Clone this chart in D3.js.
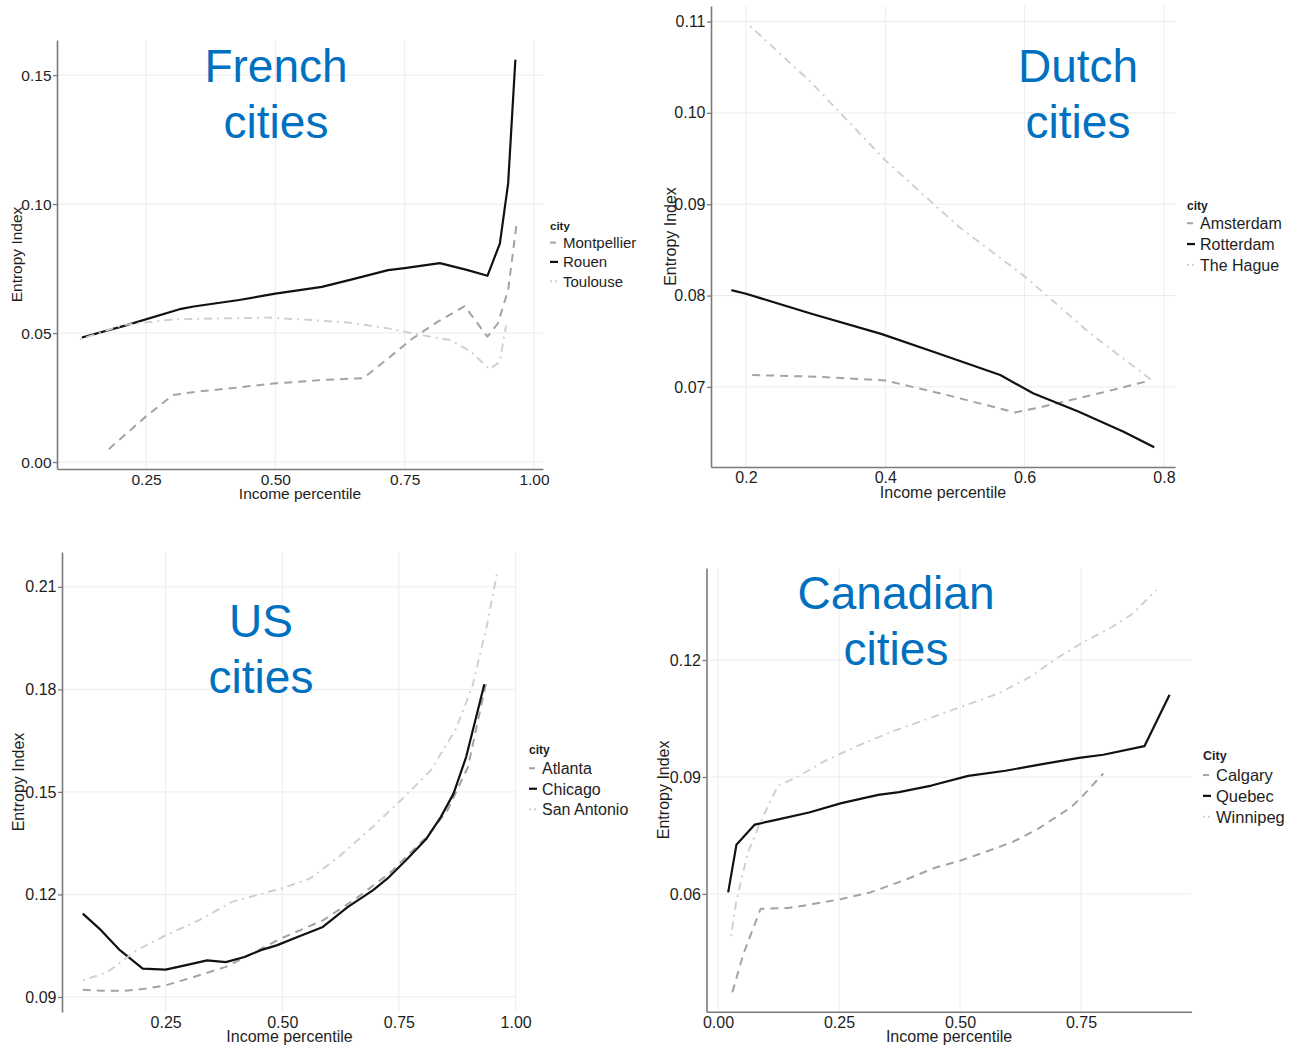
<!DOCTYPE html>
<html>
<head>
<meta charset="utf-8">
<script src="https://cdn.jsdelivr.net/npm/d3@7"></script>
<style>
  html, body { margin: 0; padding: 0; background: #ffffff; }
  svg { display: block; }
  text { font-family: "Liberation Sans", Arial, sans-serif; }
</style>
</head>
<body>
<svg id="chart" width="1292" height="1045"></svg>
<script>
// ---- Entropy index by income percentile, four country groups ----

// French cities
const frenchCities = ["Montpellier", "Rouen", "Toulouse"];
const montpellier = [[0.178,0.005],[0.25,0.0177],[0.302,0.026],[0.35,0.0273],[0.414,0.0286],[0.50,0.0305],[0.59,0.0318],[0.67,0.0325],[0.718,0.0402],[0.766,0.048],[0.814,0.0544],[0.866,0.0604],[0.91,0.0486],[0.93,0.0537],[0.95,0.0666],[0.966,0.0918]];
const rouen = [[0.126,0.0483],[0.206,0.0527],[0.318,0.0594],[0.342,0.0603],[0.43,0.0628],[0.50,0.0653],[0.59,0.0679],[0.654,0.0711],[0.718,0.0744],[0.75,0.0752],[0.818,0.0771],[0.87,0.0745],[0.91,0.0722],[0.934,0.0847],[0.95,0.108],[0.964,0.156]];
const toulouse = [[0.122,0.0476],[0.206,0.0531],[0.302,0.0553],[0.398,0.0557],[0.486,0.056],[0.574,0.055],[0.646,0.054],[0.718,0.0518],[0.782,0.0492],[0.838,0.0473],[0.878,0.0428],[0.914,0.036],[0.934,0.0389],[0.946,0.053]];
const frenchXTicks = ["0.25", "0.50", "0.75", "1.00"];
const frenchYTicks = ["0.00", "0.05", "0.10", "0.15"];

// Dutch cities
const dutchCities = ["Amsterdam", "Rotterdam", "The Hague"];
const amsterdam = [[0.209,0.0713],[0.306,0.0711],[0.40,0.0707],[0.489,0.0691],[0.586,0.0672],[0.624,0.0678],[0.707,0.0693],[0.78,0.0707]];
const rotterdam = [[0.179,0.0806],[0.2,0.0802],[0.294,0.078],[0.394,0.0758],[0.471,0.0738],[0.565,0.0713],[0.612,0.0693],[0.677,0.0673],[0.742,0.0651],[0.786,0.0634]];
const theHague = [[0.206,0.1095],[0.294,0.1033],[0.40,0.0948],[0.506,0.0875],[0.60,0.0821],[0.695,0.0758],[0.783,0.0707]];
const dutchXTicks = ["0.2", "0.4", "0.6", "0.8"];
const dutchYTicks = ["0.07", "0.08", "0.09", "0.10", "0.11"];

// US cities
const usCities = ["Atlanta", "Chicago", "San Antonio"];
const atlanta = [[0.0725,0.0921],[0.117,0.0918],[0.161,0.0918],[0.206,0.0924],[0.25,0.0934],[0.312,0.0959],[0.379,0.0988],[0.428,0.1022],[0.497,0.1071],[0.587,0.1124],[0.658,0.1188],[0.729,0.1261],[0.809,0.1368],[0.854,0.1446],[0.898,0.1573],[0.938,0.1827]];
const chicago = [[0.0725,0.1144],[0.108,0.11],[0.152,0.1037],[0.201,0.0983],[0.25,0.098],[0.294,0.0993],[0.339,0.1007],[0.379,0.1002],[0.419,0.1017],[0.454,0.1037],[0.488,0.1051],[0.534,0.1076],[0.587,0.1105],[0.64,0.1163],[0.694,0.1212],[0.725,0.1246],[0.765,0.13],[0.809,0.1363],[0.84,0.1427],[0.867,0.1495],[0.894,0.1602],[0.933,0.1815]];
const sanAntonio = [[0.0725,0.0949],[0.126,0.0973],[0.188,0.1037],[0.25,0.108],[0.321,0.1124],[0.392,0.1178],[0.445,0.1198],[0.497,0.1217],[0.559,0.1246],[0.621,0.131],[0.694,0.1398],[0.765,0.149],[0.818,0.1563],[0.871,0.1681],[0.907,0.1807],[0.938,0.1983],[0.96,0.2139]];
const usXTicks = ["0.25", "0.50", "0.75", "1.00"];
const usYTicks = ["0.09", "0.12", "0.15", "0.18", "0.21"];

// Canadian cities
const canadianCities = ["Calgary", "Quebec", "Winnipeg"];
const calgary = [[0.0296,0.0348],[0.0524,0.0446],[0.088,0.0562],[0.145,0.0564],[0.196,0.0574],[0.255,0.0587],[0.315,0.0604],[0.382,0.0634],[0.45,0.0668],[0.50,0.0685],[0.551,0.0707],[0.61,0.0734],[0.661,0.0767],[0.729,0.0822],[0.754,0.0852],[0.796,0.0909]];
const quebec = [[0.021,0.0604],[0.038,0.0726],[0.076,0.0778],[0.12,0.079],[0.188,0.0809],[0.255,0.0833],[0.331,0.0854],[0.374,0.0861],[0.441,0.0878],[0.517,0.0903],[0.594,0.0916],[0.67,0.0933],[0.746,0.0949],[0.796,0.0957],[0.881,0.0979],[0.933,0.1111]];
const winnipeg = [[0.027,0.0491],[0.038,0.0583],[0.061,0.0703],[0.086,0.078],[0.124,0.0878],[0.162,0.0899],[0.222,0.0942],[0.298,0.0985],[0.365,0.1019],[0.433,0.1049],[0.50,0.1079],[0.577,0.1113],[0.644,0.1156],[0.703,0.1207],[0.754,0.1245],[0.813,0.1284],[0.856,0.1318],[0.906,0.138]];
const canadianXTicks = ["0.00", "0.25", "0.50", "0.75"];
const canadianYTicks = ["0.06", "0.09", "0.12"];

// Axis limits (ggplot-style 5% padding around the data)
const frenchXLim = [0.0779, 1.0174], frenchYLim = [-0.0027, 0.1636];
const dutchXLim = [0.1498, 0.8158], dutchYLim = [0.06123, 0.1117];
const usXLim = [0.028, 1.003], usYLim = [0.0856, 0.2202];
const canadianXLim = [-0.0238, 0.9785], canadianYLim = [0.0298, 0.1436];

// Line styles shared by the three city slots of every panel
const lineStyles = [
  { stroke: "#a3a3a3", width: 2.0, dash: "8,6" },        // dashed
  { stroke: "#111111", width: 2.2, dash: null },         // solid
  { stroke: "#cfcfcf", width: 1.9, dash: "2,5,8,5" }     // dot-dash
];

const panels = [
  {
    title: ["French", "cities"], titleX: 276, titleY: [82, 138],
    box: { l: 57, r: 543, t: 40, b: 469 },
    xLim: frenchXLim, yLim: frenchYLim,
    xTicks: frenchXTicks, yTicks: frenchYTicks,
    names: frenchCities, series: [montpellier, rouen, toulouse],
    legendTitle: "city", legend: { x: 550, titleY: 230, y0: 248, dy: 19.3, fs: 15, tfs: 11.5 },
    yTitleX: 22, xTitleY: 499, fs: 15.5, bottomAxis: true
  },
  {
    title: ["Dutch", "cities"], titleX: 1078, titleY: [82, 138],
    box: { l: 711, r: 1175, t: 6, b: 467 },
    xLim: dutchXLim, yLim: dutchYLim,
    xTicks: dutchXTicks, yTicks: dutchYTicks,
    names: dutchCities, series: [amsterdam, rotterdam, theHague],
    legendTitle: "city", legend: { x: 1187, titleY: 210, y0: 229, dy: 20.8, fs: 16, tfs: 12 },
    yTitleX: 676, xTitleY: 498, fs: 16, bottomAxis: true
  },
  {
    title: ["US", "cities"], titleX: 261, titleY: [637, 693],
    box: { l: 62, r: 517, t: 552, b: 1012 },
    xLim: usXLim, yLim: usYLim,
    xTicks: usXTicks, yTicks: usYTicks,
    names: usCities, series: [atlanta, chicago, sanAntonio],
    legendTitle: "city", legend: { x: 529, titleY: 754, y0: 774, dy: 20.5, fs: 16, tfs: 12 },
    yTitleX: 24, xTitleY: 1042, fs: 16, bottomAxis: false
  },
  {
    title: ["Canadian", "cities"], titleX: 896, titleY: [609, 665],
    box: { l: 706.5, r: 1191.6, t: 568, b: 1011.7 },
    xLim: canadianXLim, yLim: canadianYLim,
    xTicks: canadianXTicks, yTicks: canadianYTicks,
    names: canadianCities, series: [calgary, quebec, winnipeg],
    legendTitle: "City", legend: { x: 1203, titleY: 760, y0: 781, dy: 20.8, fs: 16.5, tfs: 12.5 },
    yTitleX: 669, xTitleY: 1042, fs: 16, bottomAxis: true
  }
];

const svg = d3.select("#chart");

panels.forEach(p => {
  const g = svg.append("g");
  const x = d3.scaleLinear().domain(p.xLim).range([p.box.l, p.box.r]);
  const y = d3.scaleLinear().domain(p.yLim).range([p.box.b, p.box.t]);
  const xVals = p.xTicks.map(Number);
  const yVals = p.yTicks.map(Number);

  // grid
  g.append("g").selectAll("line").data(xVals).join("line")
    .attr("x1", d => x(d)).attr("x2", d => x(d))
    .attr("y1", p.box.t).attr("y2", p.box.b)
    .attr("stroke", "#ececec").attr("stroke-width", 1);
  g.append("g").selectAll("line").data(yVals).join("line")
    .attr("x1", p.box.l).attr("x2", p.box.r)
    .attr("y1", d => y(d)).attr("y2", d => y(d))
    .attr("stroke", "#ececec").attr("stroke-width", 1);

  // axes
  const yAxis = d3.axisLeft(y).tickValues(yVals)
    .tickFormat((d, i) => p.yTicks[i]).tickSize(4).tickSizeOuter(0).tickPadding(1.5);
  const yg = g.append("g").attr("transform", `translate(${p.box.l},0)`).call(yAxis);
  const xAxis = d3.axisBottom(x).tickValues(xVals)
    .tickFormat((d, i) => p.xTicks[i]).tickSize(0).tickSizeOuter(0).tickPadding(5);
  const xg = g.append("g").attr("transform", `translate(0,${p.box.b})`).call(xAxis);

  [yg, xg].forEach(ax => {
    ax.select(".domain").attr("stroke", "#7a7a7a").attr("stroke-width", 1.6);
    ax.selectAll(".tick line").attr("stroke", "#7a7a7a").attr("stroke-width", 1.3);
    ax.selectAll(".tick text").attr("fill", "#1e1e1e")
      .style("font-size", p.fs + "px")
      .style("font-family", "'Liberation Sans', Arial, sans-serif");
  });
  if (!p.bottomAxis) xg.select(".domain").remove();

  // axis titles
  g.append("text")
    .attr("transform", `translate(${p.yTitleX},${(p.box.t + p.box.b) / 2}) rotate(-90)`)
    .attr("text-anchor", "middle").attr("fill", "#1e1e1e")
    .style("font-size", p.fs + "px").text("Entropy Index");
  g.append("text")
    .attr("x", (p.box.l + p.box.r) / 2).attr("y", p.xTitleY)
    .attr("text-anchor", "middle").attr("fill", "#1e1e1e")
    .style("font-size", p.fs + "px").text("Income percentile");

  // series
  const line = d3.line().x(d => x(d[0])).y(d => y(d[1]));
  p.series.forEach((s, i) => {
    const st = lineStyles[i];
    g.append("path").datum(s)
      .attr("d", line)
      .attr("fill", "none")
      .attr("stroke", st.stroke)
      .attr("stroke-width", st.width)
      .attr("stroke-linejoin", "round")
      .attr("stroke-dasharray", st.dash);
  });

  // legend
  const L = p.legend;
  g.append("text").attr("x", L.x).attr("y", L.titleY)
    .attr("fill", "#1e1e1e").style("font-weight", "bold")
    .style("font-size", L.tfs + "px").text(p.legendTitle);
  p.names.forEach((name, i) => {
    const st = lineStyles[i];
    const cy = L.y0 + i * L.dy - L.fs * 0.36;
    g.append("line")
      .attr("x1", L.x).attr("x2", L.x + 8)
      .attr("y1", cy).attr("y2", cy)
      .attr("stroke", st.stroke).attr("stroke-width", st.width)
      .attr("stroke-dasharray", i === 2 ? "2,3" : (i === 0 ? "6,4" : null));
    g.append("text").attr("x", L.x + 13).attr("y", L.y0 + i * L.dy)
      .attr("fill", "#1e1e1e").style("font-size", L.fs + "px").text(name);
  });

  // big blue panel heading
  p.title.forEach((t, i) => {
    g.append("text").attr("x", p.titleX).attr("y", p.titleY[i])
      .attr("text-anchor", "middle").attr("fill", "#0070c0")
      .style("font-size", "46px").text(t);
  });
});
</script>
</body>
</html>
